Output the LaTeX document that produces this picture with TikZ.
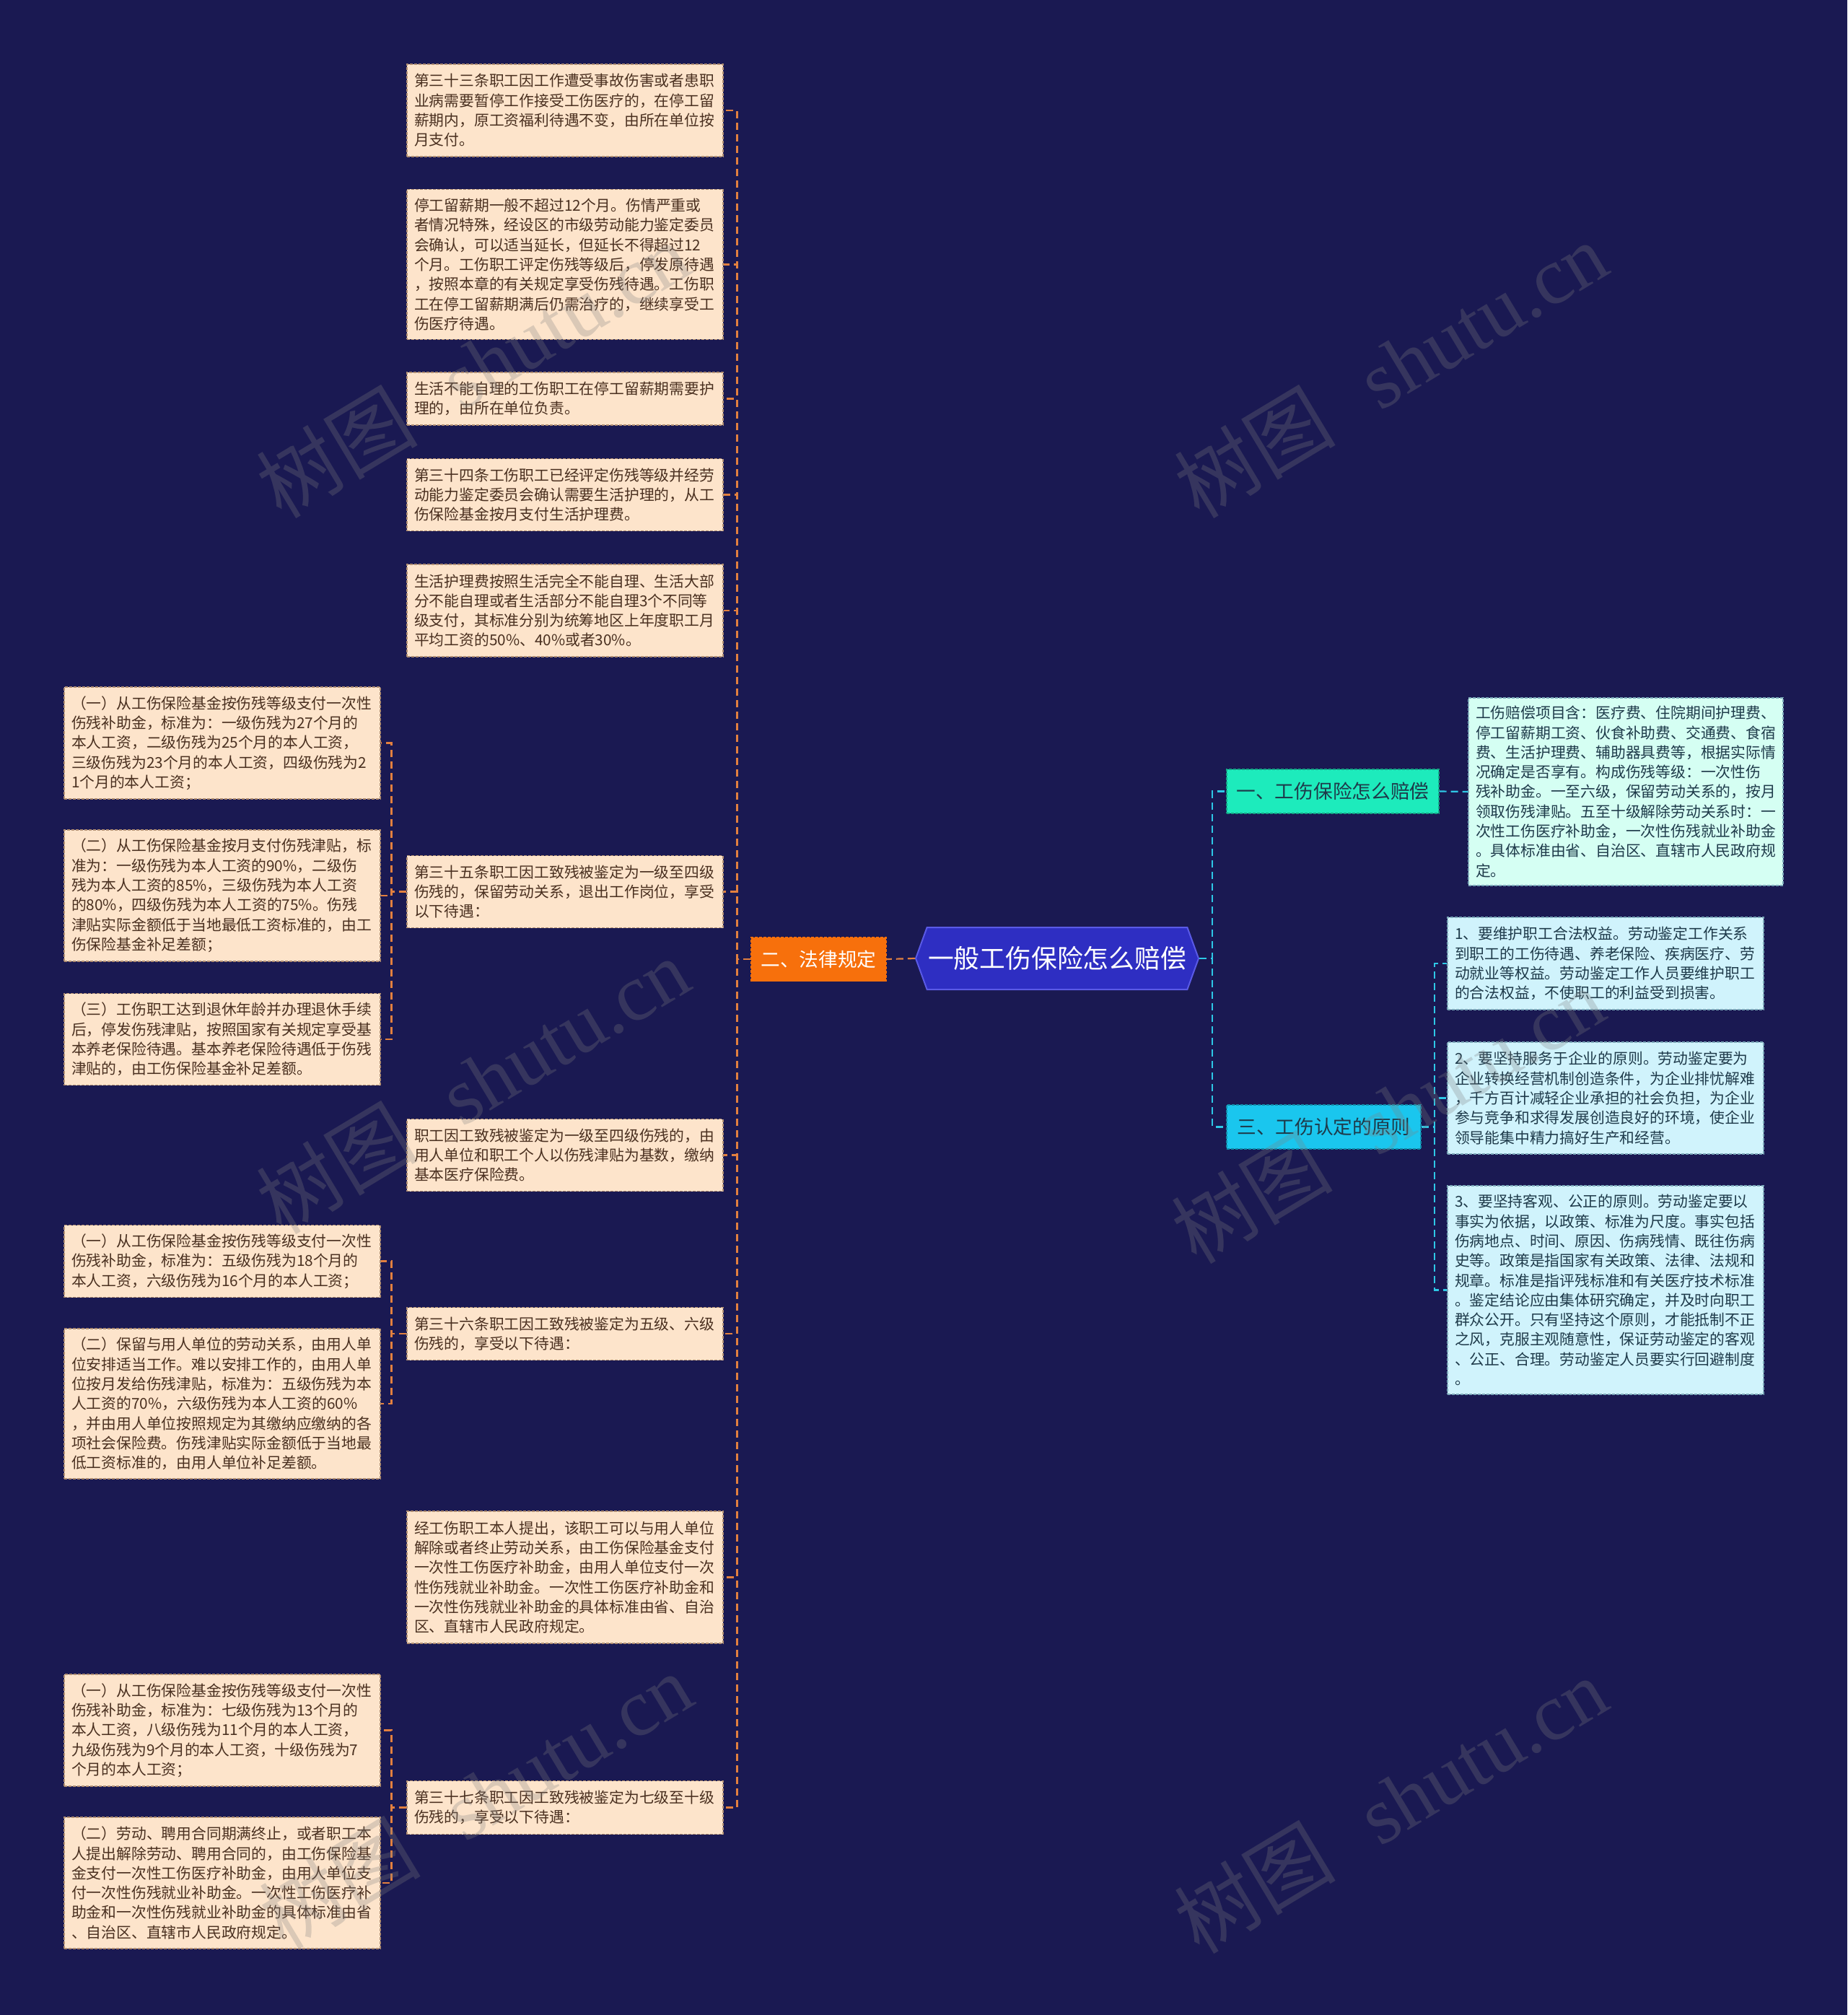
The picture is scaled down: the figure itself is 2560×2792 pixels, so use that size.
\documentclass[tikz,border=0pt]{standalone}
\usepackage{fontspec}
\setmainfont{Noto Sans CJK SC}
\newfontfamily\wmlatin{Liberation Serif}
\usetikzlibrary{shapes.symbols}
\definecolor{bg}{HTML}{1A1952}
\definecolor{peach}{HTML}{FDE4CB}
\definecolor{peachborder}{HTML}{B08E72}
\definecolor{browntext}{HTML}{4A3020}
\definecolor{orangeline}{HTML}{E2803F}
\definecolor{lawfill}{HTML}{F7700C}
\definecolor{rootfill}{HTML}{2E2EC2}
\definecolor{rootborder}{HTML}{5A5AE6}
\definecolor{tealfill}{HTML}{1DEBBC}
\definecolor{mint}{HTML}{D5FFF3}
\definecolor{cyanfill}{HTML}{1AC6EE}
\definecolor{lightblue}{HTML}{D0F3FC}
\definecolor{blueborder}{HTML}{7AA7B8}
\definecolor{bluetext}{HTML}{1E3A4A}
\definecolor{cyanline}{HTML}{2EC8E6}
\begin{document}
\begin{tikzpicture}[x=0.5pt,y=-0.5pt,
  base/.style={rectangle, draw, dash pattern=on 2pt off 1pt, line width=0.6pt,
    inner xsep=5pt, inner ysep=0pt, text width=209pt, align=left,
    font=\fontsize{10.4pt}{13.65pt}\selectfont, anchor=center},
  mbox/.style={base, fill=peach, draw=peachborder, text=browntext},
  rbox/.style={base, fill=lightblue, draw=blueborder, text=bluetext},
  r0box/.style={base, fill=mint, draw=blueborder, text=bluetext, text width=208pt},
  oline/.style={draw=orangeline, line width=1.1pt, dash pattern=on 5pt off 3pt},
  cline/.style={draw=cyanline, line width=1.1pt, dash pattern=on 5pt off 3pt},
  lvl/.style={rectangle, draw, dash pattern=on 2pt off 1pt, line width=0.6pt,
    minimum height=30.5pt, inner xsep=4pt, font=\fontsize{13.35pt}{16pt}\selectfont, anchor=center},
  wm/.style={text=gray, text opacity=0.28, font=\fontsize{56pt}{62pt}\selectfont, rotate=31, anchor=center}
]
\fill[bg] (0,0) rectangle (2560,2792);
\useasboundingbox (0,0) rectangle (2560,2792);

% root and level 1
\node[signal, signal to=east and west, signal pointer angle=140, fill=rootfill, draw=rootborder, line width=1pt,
  minimum width=196pt, minimum height=43pt, inner sep=0pt, text=white,
  font=\fontsize{17.9pt}{20pt}\selectfont] (root) at (1465,1328) {一般工伤保险怎么赔偿};
\node[lvl, fill=lawfill, draw=lawfill, text=white, minimum width=93.5pt] (law) at (1134.5,1329) {二、法律规定};
\node[lvl, fill=tealfill, draw=tealfill!70!black, text=bluetext, minimum width=147pt] (s1) at (1847,1096.5) {一、工伤保险怎么赔偿};
\node[lvl, fill=cyanfill, draw=cyanfill!70!black, text=bluetext, minimum width=134.5pt] (s3) at (1834.5,1561.5) {三、工伤认定的原则};

% middle column
\node[mbox, minimum height=64pt] (A) at (783,153) {第三十三条职工因工作遭受事故伤害或者患职\\业病需要暂停工作接受工伤医疗的，在停工留\\薪期内，原工资福利待遇不变，由所在单位按\\月支付。};
\node[mbox, minimum height=104pt] (B) at (783,366.5) {停工留薪期一般不超过12个月。伤情严重或\\者情况特殊，经设区的市级劳动能力鉴定委员\\会确认，可以适当延长，但延长不得超过12\\个月。工伤职工评定伤残等级后，停发原待遇\\，按照本章的有关规定享受伤残待遇。工伤职\\工在停工留薪期满后仍需治疗的，继续享受工\\伤医疗待遇。};
\node[mbox, minimum height=36.5pt] (C) at (783,552.5) {生活不能自理的工伤职工在停工留薪期需要护\\理的，由所在单位负责。};
\node[mbox, minimum height=50pt] (D) at (783,685.5) {第三十四条工伤职工已经评定伤残等级并经劳\\动能力鉴定委员会确认需要生活护理的，从工\\伤保险基金按月支付生活护理费。};
\node[mbox, minimum height=64pt] (E) at (783,846) {生活护理费按照生活完全不能自理、生活大部\\分不能自理或者生活部分不能自理3个不同等\\级支付，其标准分别为统筹地区上年度职工月\\平均工资的50\%、40\%或者30\%。};
\node[mbox, minimum height=50pt] (F) at (783,1235.5) {第三十五条职工因工致残被鉴定为一级至四级\\伤残的，保留劳动关系，退出工作岗位，享受\\以下待遇：};
\node[mbox, minimum height=50pt] (G) at (783,1600.5) {职工因工致残被鉴定为一级至四级伤残的，由\\用人单位和职工个人以伤残津贴为基数，缴纳\\基本医疗保险费。};
\node[mbox, minimum height=36.5pt] (H) at (783,1848) {第三十六条职工因工致残被鉴定为五级、六级\\伤残的，享受以下待遇：};
\node[mbox, minimum height=91.5pt] (I) at (783,2185.5) {经工伤职工本人提出，该职工可以与用人单位\\解除或者终止劳动关系，由工伤保险基金支付\\一次性工伤医疗补助金，由用人单位支付一次\\性伤残就业补助金。一次性工伤医疗补助金和\\一次性伤残就业补助金的具体标准由省、自治\\区、直辖市人民政府规定。};
\node[mbox, minimum height=37pt] (J) at (783,2504.5) {第三十七条职工因工致残被鉴定为七级至十级\\伤残的，享受以下待遇：};

% left column
\node[mbox, minimum height=77.5pt] (L1) at (308,1029.5) {（一）从工伤保险基金按伤残等级支付一次性\\伤残补助金，标准为：一级伤残为27个月的\\本人工资，二级伤残为25个月的本人工资，\\三级伤残为23个月的本人工资，四级伤残为2\\1个月的本人工资；};
\node[mbox, minimum height=91pt] (L2) at (308,1241) {（二）从工伤保险基金按月支付伤残津贴，标\\准为：一级伤残为本人工资的90\%，二级伤\\残为本人工资的85\%，三级伤残为本人工资\\的80\%，四级伤残为本人工资的75\%。伤残\\津贴实际金额低于当地最低工资标准的，由工\\伤保险基金补足差额；};
\node[mbox, minimum height=63.5pt] (L3) at (308,1440) {（三）工伤职工达到退休年龄并办理退休手续\\后，停发伤残津贴，按照国家有关规定享受基\\本养老保险待遇。基本养老保险待遇低于伤残\\津贴的，由工伤保险基金补足差额。};
\node[mbox, minimum height=50pt] (M1) at (308,1747.5) {（一）从工伤保险基金按伤残等级支付一次性\\伤残补助金，标准为：五级伤残为18个月的\\本人工资，六级伤残为16个月的本人工资；};
\node[mbox, minimum height=104pt] (M2) at (308,1945) {（二）保留与用人单位的劳动关系，由用人单\\位安排适当工作。难以安排工作的，由用人单\\位按月发给伤残津贴，标准为：五级伤残为本\\人工资的70\%，六级伤残为本人工资的60\%\\，并由用人单位按照规定为其缴纳应缴纳的各\\项社会保险费。伤残津贴实际金额低于当地最\\低工资标准的，由用人单位补足差额。};
\node[mbox, minimum height=77.5pt] (N1) at (308,2397.5) {（一）从工伤保险基金按伤残等级支付一次性\\伤残补助金，标准为：七级伤残为13个月的\\本人工资，八级伤残为11个月的本人工资，\\九级伤残为9个月的本人工资，十级伤残为7\\个月的本人工资；};
\node[mbox, minimum height=91pt] (N2) at (308,2609) {（二）劳动、聘用合同期满终止，或者职工本\\人提出解除劳动、聘用合同的，由工伤保险基\\金支付一次性工伤医疗补助金，由用人单位支\\付一次性伤残就业补助金。一次性工伤医疗补\\助金和一次性伤残就业补助金的具体标准由省\\、自治区、直辖市人民政府规定。};

% right column
\node[r0box, minimum height=130pt] (R0) at (2253,1097) {工伤赔偿项目含：医疗费、住院期间护理费、\\停工留薪期工资、伙食补助费、交通费、食宿\\费、生活护理费、辅助器具费等，根据实际情\\况确定是否享有。构成伤残等级：一次性伤\\残补助金。一至六级，保留劳动关系的，按月\\领取伤残津贴。五至十级解除劳动关系时：一\\次性工伤医疗补助金，一次性伤残就业补助金\\。具体标准由省、自治区、直辖市人民政府规\\定。};
\node[rbox, minimum height=64pt] (R1) at (2225,1335) {1、要维护职工合法权益。劳动鉴定工作关系\\到职工的工伤待遇、养老保险、疾病医疗、劳\\动就业等权益。劳动鉴定工作人员要维护职工\\的合法权益，不使职工的利益受到损害。};
\node[rbox, minimum height=77.5pt] (R2) at (2225,1521.5) {2、要坚持服务于企业的原则。劳动鉴定要为\\企业转换经营机制创造条件，为企业排忧解难\\，千方百计减轻企业承担的社会负担，为企业\\参与竞争和求得发展创造良好的环境，使企业\\领导能集中精力搞好生产和经营。};
\node[rbox, minimum height=144.5pt] (R3) at (2225,1787.5) {3、要坚持客观、公正的原则。劳动鉴定要以\\事实为依据，以政策、标准为尺度。事实包括\\伤病地点、时间、原因、伤病残情、既往伤病\\史等。政策是指国家有关政策、法律、法规和\\规章。标准是指评残标准和有关医疗技术标准\\。鉴定结论应由集体研究确定，并及时向职工\\群众公开。只有坚持这个原则，才能抵制不正\\之风，克服主观随意性，保证劳动鉴定的客观\\、公正、合理。劳动鉴定人员要实行回避制度\\。};

% connectors
\draw[oline] (root.west) -- (law.east);
\foreach \n in {A,B,C,D,E,F,G,H,I,J}{\draw[oline] (law.west) -- ++(-19,0) |- (\n.east);}
\foreach \n in {L1,L2,L3}{\draw[oline] (F.west) -- ++(-21,0) |- (\n.east);}
\foreach \n in {M1,M2}{\draw[oline] (H.west) -- ++(-21,0) |- (\n.east);}
\foreach \n in {N1,N2}{\draw[oline] (J.west) -- ++(-21,0) |- (\n.east);}
\draw[cline] (root.east) -- ++(18,0) |- (s1.west);
\draw[cline] (root.east) -- ++(18,0) |- (s3.west);
\draw[cline] (s1.east) -- (R0.west);
\foreach \n in {R1,R2,R3}{\draw[cline] (s3.east) -- ++(18,0) |- (\n.west);}

% watermarks
\node[wm] (w1) at (655,512) {树图\hspace{0.6em}{\wmlatin shutu.cn}};
\node[wm] (w2) at (1927,512) {树图\hspace{0.6em}{\wmlatin shutu.cn}};
\node[wm] (w3) at (655,1504) {树图\hspace{0.6em}{\wmlatin shutu.cn}};
\node[wm] (w4) at (1923,1545) {树图\hspace{0.6em}{\wmlatin shutu.cn}};
\node[wm] (w5) at (659,2495) {树图\hspace{0.6em}{\wmlatin shutu.cn}};
\node[wm] (w6) at (1927,2501) {树图\hspace{0.6em}{\wmlatin shutu.cn}};
\end{tikzpicture}
\end{document}
